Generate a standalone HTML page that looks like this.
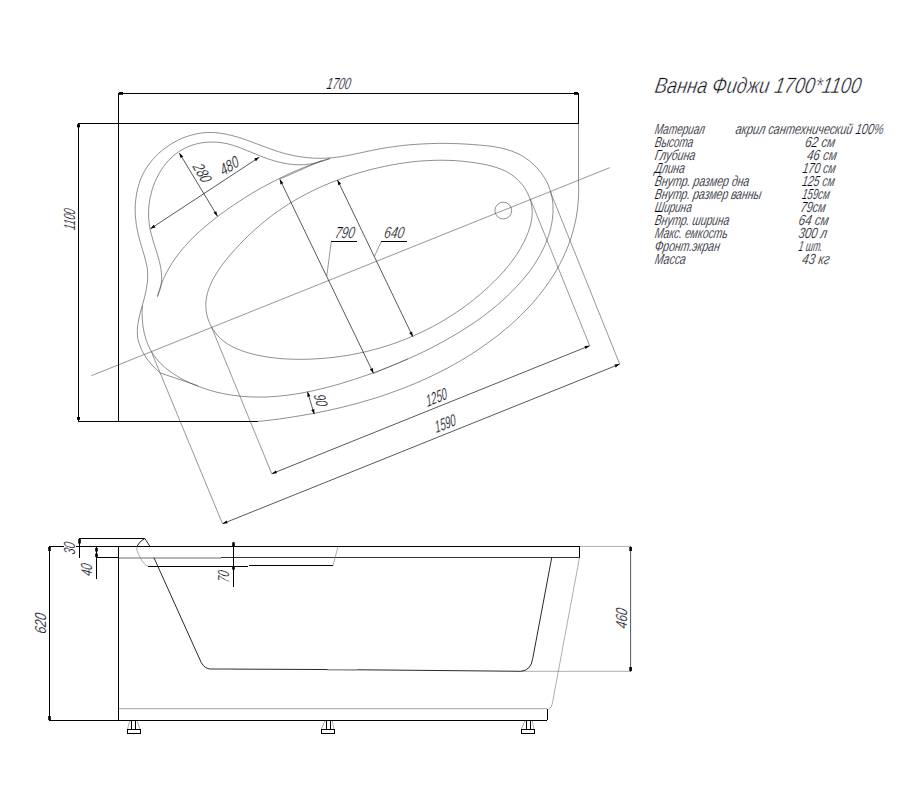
<!DOCTYPE html>
<html lang="ru"><head><meta charset="utf-8"><title>Ванна Фиджи 1700*1100</title>
<style>
html,body{margin:0;padding:0;background:#fff;}
body{width:900px;height:800px;overflow:hidden;position:relative;}
svg{position:absolute;left:0;top:0;display:block;}
path,circle{fill:none;}
.k{stroke:#000;stroke-width:1;shape-rendering:crispEdges;}
.k2{stroke:#111;stroke-width:0.9;}
.c{stroke:#444;stroke-width:0.6;}
.g{stroke:#9c9c9c;stroke-width:1.5;}
.g3{stroke:#b4b4b4;stroke-width:1.3;}
.d2{stroke:#111;stroke-width:0.85;}
.d3{stroke:#555;stroke-width:1;}
.g2{stroke:#777;stroke-width:0.6;}
.d{stroke:#161616;stroke-width:0.72;}
.e{stroke:#505050;stroke-width:0.6;}
.ar{fill:#000;stroke:none;}
text{font-family:"Liberation Sans","DejaVu Sans",sans-serif;font-style:italic;fill:#0b0d18;stroke:#fff;stroke-width:0.22px;}
.tt{stroke-width:0.45px;}
</style></head><body>
<svg width="900" height="800" viewBox="0 0 900 800">
<path class="k" d="M118 93.5H579M118.5 93V421.5M78 123.5H579M78.5 123V421.5M578.5 93V124M78 421.5H258"/>
<rect class="ar" x="119" y="92" width="4" height="2.8"/>
<rect class="ar" x="574" y="92" width="4" height="2.8"/>
<rect class="ar" x="77" y="124.3" width="3" height="3"/>
<rect class="ar" x="77" y="417" width="3" height="2.8"/>
<path class="c" d="M142.5 305.5C142.4 306.7 142.2 310.2 142.1 312.5C142.1 314.8 142.2 317.2 142.3 319.5C142.5 321.8 142.7 324.2 143.0 326.5C143.4 328.8 143.8 331.1 144.3 333.4C144.9 335.6 145.5 337.9 146.2 340.1C147.0 342.3 147.9 344.5 148.8 346.6C149.8 348.7 150.9 350.8 152.2 352.8C153.4 354.7 154.8 356.6 156.3 358.5C157.7 360.3 159.3 362.0 160.9 363.7C162.6 365.3 164.3 366.9 166.1 368.4C167.9 369.9 169.8 371.3 171.7 372.6C173.6 374.0 175.6 375.2 177.6 376.4C179.6 377.7 181.6 378.8 183.7 379.9C185.7 381.0 187.9 382.0 190.0 382.9C192.1 383.9 194.3 384.8 196.4 385.7C198.6 386.5 200.8 387.3 203.0 388.1C205.2 388.9 207.4 389.6 209.7 390.2C211.9 390.9 214.2 391.5 216.4 392.1C218.7 392.6 221.0 393.2 223.3 393.6C225.6 394.1 227.9 394.5 230.2 394.9C232.5 395.2 234.8 395.5 237.1 395.8C239.4 396.1 241.8 396.3 244.1 396.5C246.4 396.7 248.7 396.8 251.1 396.9C253.4 397.0 255.8 397.1 258.1 397.1C260.4 397.1 262.8 397.0 265.1 397.0C267.4 396.9 269.8 396.8 272.1 396.7C274.4 396.5 276.8 396.3 279.1 396.1C281.4 395.9 283.7 395.7 286.1 395.4C288.4 395.1 290.7 394.8 293.0 394.4C295.3 394.1 297.6 393.7 299.9 393.3C302.2 392.9 304.5 392.5 306.8 392.0C309.1 391.6 311.4 391.1 313.7 390.6C315.9 390.1 318.2 389.6 320.5 389.0C322.8 388.5 325.0 387.9 327.3 387.3C329.6 386.7 331.8 386.1 334.1 385.5C336.3 384.9 338.6 384.2 340.8 383.6C343.0 382.9 345.3 382.2 347.5 381.5C349.7 380.9 352.0 380.1 354.2 379.4C356.4 378.7 358.6 378.0 360.8 377.2C363.0 376.5 365.3 375.7 367.5 374.9C369.7 374.2 371.9 373.4 374.1 372.6C376.3 371.8 378.5 371.0 380.6 370.1C382.8 369.3 385.0 368.5 387.2 367.6C389.4 366.8 391.5 365.9 393.7 365.0C395.9 364.2 398.0 363.3 400.2 362.4C402.3 361.4 404.5 360.5 406.6 359.6C408.7 358.6 410.9 357.7 413.0 356.7C415.1 355.7 417.2 354.8 419.3 353.8C421.5 352.8 423.6 351.7 425.7 350.7C427.8 349.7 429.8 348.6 431.9 347.6C434.0 346.5 436.1 345.4 438.1 344.3C440.2 343.2 442.2 342.1 444.3 341.0C446.3 339.8 448.4 338.7 450.4 337.5C452.4 336.4 454.4 335.2 456.4 334.0C458.4 332.8 460.4 331.6 462.4 330.3C464.4 329.1 466.4 327.8 468.3 326.5C470.3 325.3 472.2 324.0 474.1 322.7C476.1 321.3 478.0 320.0 479.9 318.6C481.8 317.3 483.7 315.9 485.5 314.5C487.4 313.0 489.2 311.6 491.0 310.2C492.9 308.7 494.7 307.2 496.5 305.7C498.3 304.2 500.0 302.7 501.8 301.1C503.5 299.6 505.2 298.0 506.9 296.4C508.6 294.8 510.3 293.1 511.9 291.5C513.6 289.8 515.2 288.1 516.8 286.4C518.4 284.7 520.0 283.0 521.5 281.2C523.0 279.5 524.5 277.7 526.0 275.9C527.4 274.0 528.9 272.2 530.3 270.3C531.6 268.4 533.0 266.5 534.3 264.6C535.6 262.6 536.8 260.6 538.0 258.6C539.2 256.6 540.4 254.6 541.4 252.5C542.5 250.4 543.5 248.3 544.5 246.2C545.5 244.1 546.4 241.9 547.2 239.7C548.0 237.6 548.7 235.3 549.4 233.1C550.1 230.9 550.6 228.6 551.1 226.3C551.6 224.0 552.1 221.7 552.4 219.4C552.7 217.1 552.9 214.8 553.0 212.4C553.1 210.1 553.1 207.8 553.0 205.4C552.8 203.1 552.6 200.8 552.2 198.5C551.8 196.2 551.3 193.9 550.7 191.6C550.0 189.4 549.2 187.2 548.3 185.0C547.4 182.9 546.3 180.8 545.1 178.8C544.0 176.8 542.6 174.8 541.2 173.0C539.8 171.1 538.3 169.3 536.7 167.6C535.1 165.9 533.4 164.3 531.7 162.8C529.9 161.2 528.0 159.8 526.1 158.5C524.2 157.1 522.2 155.9 520.2 154.8C518.1 153.7 516.0 152.7 513.8 151.9C511.6 151.0 509.4 150.2 507.2 149.6C504.9 148.9 502.7 148.4 500.4 147.9C498.1 147.4 495.8 147.0 493.5 146.6C491.2 146.3 488.9 146.0 486.5 145.7C484.2 145.5 481.9 145.3 479.6 145.1C477.2 144.9 474.9 144.7 472.6 144.5C470.2 144.3 467.9 144.2 465.6 144.1C463.3 143.9 460.9 143.8 458.6 143.7C456.3 143.6 453.9 143.6 451.6 143.5C449.2 143.4 446.9 143.4 444.6 143.4C442.2 143.4 439.9 143.4 437.6 143.4C435.2 143.5 432.9 143.5 430.6 143.6C428.2 143.7 425.9 143.7 423.6 143.9C421.2 144.0 418.9 144.1 416.6 144.3C414.2 144.4 411.9 144.6 409.6 144.8C407.2 145.0 404.9 145.3 402.6 145.5C400.3 145.8 398.0 146.1 395.6 146.4C393.3 146.7 391.0 147.0 388.7 147.4C386.4 147.7 384.1 148.1 381.8 148.5C379.5 148.9 377.2 149.3 374.9 149.8C372.6 150.2 370.3 150.7 368.0 151.2C365.8 151.7 363.5 152.2 361.2 152.7C358.9 153.2 356.6 153.7 354.3 154.2C352.1 154.6 349.8 155.1 347.5 155.5C345.2 156.0 342.9 156.4 340.6 156.7C338.2 157.0 335.9 157.3 333.6 157.6C331.3 157.8 328.9 158.0 326.6 158.1C324.3 158.2 321.9 158.3 319.6 158.3C317.3 158.2 314.9 158.2 312.6 158.1C310.3 157.9 307.9 157.7 305.6 157.5C303.3 157.2 301.0 156.9 298.7 156.5C296.4 156.2 294.1 155.7 291.8 155.2C289.5 154.7 287.2 154.2 285.0 153.6C282.7 153.0 280.5 152.3 278.3 151.6C276.0 150.9 273.8 150.1 271.6 149.3C269.4 148.6 267.2 147.8 265.0 146.9C262.8 146.1 260.7 145.3 258.5 144.5C256.3 143.7 254.1 142.8 251.9 142.0C249.7 141.2 247.5 140.4 245.3 139.6C243.1 138.9 240.9 138.1 238.7 137.4C236.4 136.8 234.2 136.1 231.9 135.5C229.7 134.9 227.4 134.4 225.1 134.0C222.8 133.5 220.5 133.2 218.2 132.9C215.9 132.7 213.5 132.5 211.2 132.5C208.8 132.4 206.5 132.5 204.2 132.7C201.9 132.9 199.5 133.3 197.2 133.7C195.0 134.2 192.7 134.7 190.4 135.4C188.2 136.0 186.0 136.8 183.8 137.6C181.6 138.5 179.5 139.4 177.4 140.5C175.3 141.5 173.3 142.6 171.3 143.9C169.3 145.1 167.3 146.4 165.5 147.8C163.6 149.2 161.8 150.6 160.0 152.2C158.3 153.7 156.6 155.4 155.0 157.1C153.4 158.7 151.8 160.5 150.4 162.4C149.0 164.2 147.6 166.1 146.4 168.1C145.1 170.1 144.0 172.1 142.9 174.2C141.9 176.3 141.0 178.4 140.1 180.6C139.3 182.8 138.6 185.0 138.0 187.3C137.4 189.5 136.9 191.8 136.5 194.1C136.1 196.4 135.8 198.8 135.6 201.1C135.4 203.4 135.2 205.7 135.2 208.1C135.2 210.4 135.2 212.7 135.3 215.1C135.5 217.4 135.7 219.7 136.0 222.1C136.3 224.4 136.6 226.7 137.1 229.0C137.5 231.3 138.0 233.6 138.6 235.8C139.1 238.1 139.8 240.3 140.4 242.6C141.0 244.8 141.7 247.1 142.4 249.3C143.0 251.6 143.7 253.8 144.4 256.0C145.0 258.3 145.7 260.5 146.2 262.8C146.7 265.1 147.2 267.4 147.5 269.7C147.7 272.0 147.8 274.3 147.7 276.7C147.7 279.0 147.5 281.3 147.2 283.7C146.9 286.0 146.5 288.3 146.1 290.6C145.6 292.9 145.1 295.1 144.5 297.4C143.9 299.7 143.3 301.9 142.7 304.2C142.1 306.4 141.4 308.7 140.8 310.9C140.2 313.2 139.5 315.4 139.0 317.7C138.5 320.0 138.1 322.3 137.8 324.6C137.5 326.9 137.3 329.3 137.3 331.6C137.3 333.9 137.5 336.3 137.9 338.6C138.3 340.8 139.0 343.1 139.8 345.3C140.5 347.5 141.5 349.6 142.6 351.7C143.7 353.8 144.9 355.8 146.2 357.7C147.5 359.7 148.9 361.5 150.4 363.3C151.9 365.1 153.5 366.8 155.2 368.4C156.9 370.0 159.6 372.2 160.5 373.0"/>
<path class="c" d="M160.5 373L198 385.75"/>
<path class="c" d="M157.5 296.5C157.9 295.4 159.3 292.1 160.0 289.8C160.6 287.5 161.1 285.2 161.3 282.8C161.6 280.5 161.7 278.0 161.6 275.7C161.5 273.3 161.2 270.9 160.9 268.6C160.5 266.2 160.0 263.9 159.4 261.6C158.9 259.3 158.2 257.0 157.5 254.7C156.8 252.4 156.1 250.2 155.4 247.9C154.7 245.6 153.9 243.4 153.2 241.1C152.5 238.8 151.9 236.5 151.3 234.2C150.7 231.9 150.1 229.6 149.7 227.2C149.3 224.9 149.0 222.5 148.8 220.2C148.6 217.8 148.5 215.4 148.5 213.0C148.6 210.7 148.7 208.3 148.9 205.9C149.2 203.5 149.5 201.2 149.9 198.8C150.4 196.5 150.9 194.2 151.5 191.9C152.1 189.6 152.9 187.3 153.7 185.1C154.5 182.8 155.4 180.6 156.5 178.5C157.5 176.4 158.6 174.2 159.8 172.2C161.0 170.2 162.4 168.2 163.8 166.3C165.2 164.3 166.7 162.5 168.3 160.7C169.9 159.0 171.7 157.3 173.5 155.8C175.3 154.2 177.2 152.8 179.1 151.5C181.1 150.2 183.2 149.0 185.3 147.9C187.5 146.9 189.7 146.0 191.9 145.2C194.2 144.5 196.5 143.8 198.8 143.4C201.2 142.9 203.5 142.5 205.9 142.3C208.3 142.1 210.6 142.0 213.0 142.0C215.4 142.0 217.8 142.2 220.1 142.5C222.5 142.8 224.8 143.2 227.2 143.7C229.5 144.3 231.8 144.9 234.0 145.6C236.3 146.4 238.6 147.2 240.8 148.0C243.0 148.9 245.2 149.8 247.4 150.7C249.6 151.6 251.8 152.5 254.0 153.4C256.2 154.3 258.4 155.3 260.6 156.1C262.8 157.0 265.1 157.8 267.3 158.6C269.6 159.4 271.8 160.1 274.1 160.8C276.4 161.4 278.7 162.1 281.0 162.6C283.3 163.1 285.7 163.5 288.0 163.9C290.4 164.2 292.8 164.5 295.1 164.7C297.5 164.8 299.9 164.8 302.3 164.8C304.6 164.7 307.0 164.5 309.4 164.1C311.7 163.8 314.1 163.3 316.4 162.8C318.7 162.3 321.0 161.6 323.3 160.9C325.5 160.2 328.9 158.9 330.0 158.5"/>
<path class="c" d="M157.5 296.5C157.8 295.4 158.7 291.9 159.4 289.6C160.2 287.3 161.0 285.1 161.9 282.9C162.7 280.6 163.7 278.4 164.7 276.3C165.7 274.1 166.8 272.0 168.0 269.9C169.1 267.8 170.4 265.8 171.6 263.8C172.9 261.7 174.3 259.8 175.6 257.8C177.0 255.9 178.5 254.0 180.0 252.1C181.4 250.2 183.0 248.4 184.6 246.6C186.1 244.8 187.7 243.1 189.4 241.3C191.0 239.6 192.7 237.9 194.4 236.2C196.2 234.6 197.9 233.0 199.7 231.4C201.4 229.7 203.2 228.2 205.1 226.6C206.9 225.1 208.7 223.6 210.6 222.1C212.4 220.6 214.3 219.1 216.2 217.6C218.1 216.2 220.0 214.7 221.9 213.3C223.8 211.9 225.8 210.5 227.7 209.1C229.7 207.7 231.6 206.4 233.6 205.0C235.6 203.7 237.6 202.4 239.6 201.1C241.6 199.7 243.6 198.5 245.6 197.2C247.6 195.9 249.7 194.7 251.7 193.5C253.8 192.2 255.8 191.0 257.9 189.8C260.0 188.7 262.1 187.5 264.2 186.3C266.3 185.2 268.4 184.1 270.5 183.0C272.6 181.9 274.7 180.8 276.9 179.7C279.0 178.6 281.1 177.6 283.3 176.6C285.4 175.5 287.6 174.5 289.8 173.5C292.0 172.6 294.1 171.6 296.3 170.6C298.5 169.7 300.7 168.8 302.9 167.9C305.1 166.9 307.4 166.1 309.6 165.2C311.8 164.4 314.1 163.5 316.3 162.7C318.6 162.0 320.8 161.2 323.1 160.5C325.4 159.8 328.9 158.8 330.0 158.5"/>
<path class="c" d="M235.1 249.4C233.5 251.1 232.0 252.8 230.4 254.6C228.9 256.4 227.4 258.2 226.0 260.0C224.5 261.9 223.1 263.7 221.7 265.6C220.3 267.5 218.9 269.4 217.7 271.4C216.4 273.3 215.2 275.4 214.0 277.4C212.9 279.4 211.8 281.5 210.9 283.7C209.9 285.8 209.1 288.0 208.3 290.2C207.6 292.5 207.0 294.7 206.6 297.0C206.2 299.3 205.9 301.7 205.8 304.0C205.8 306.3 205.9 308.7 206.2 311.0C206.5 313.3 207.0 315.6 207.7 317.9C208.3 320.1 209.2 322.3 210.2 324.4C211.2 326.5 212.4 328.6 213.7 330.5C215.0 332.5 216.4 334.3 218.0 336.0C219.6 337.8 221.4 339.3 223.2 340.8C225.0 342.3 227.0 343.6 229.0 344.8C231.0 346.0 233.1 347.1 235.2 348.1C237.3 349.0 239.5 349.9 241.7 350.7C243.9 351.5 246.1 352.2 248.4 352.9C250.6 353.6 252.9 354.1 255.2 354.7C257.5 355.2 259.8 355.7 262.1 356.1C264.4 356.6 266.7 356.9 269.0 357.3C271.3 357.6 273.6 357.9 276.0 358.1C278.3 358.4 280.6 358.6 283.0 358.8C285.3 358.9 287.6 359.0 290.0 359.1C292.3 359.2 294.7 359.3 297.0 359.3C299.3 359.3 301.7 359.3 304.0 359.3C306.4 359.2 308.7 359.2 311.1 359.1C313.4 359.0 315.7 358.9 318.1 358.7C320.4 358.6 322.8 358.4 325.1 358.2C327.4 358.0 329.8 357.8 332.1 357.5C334.4 357.2 336.7 356.9 339.1 356.6C341.4 356.3 343.7 356.0 346.0 355.6C348.3 355.2 350.6 354.8 352.9 354.4C355.2 353.9 357.5 353.5 359.8 353.0C362.1 352.5 364.4 352.0 366.7 351.5C369.0 350.9 371.2 350.3 373.5 349.7C375.8 349.1 378.0 348.5 380.3 347.9C382.5 347.2 384.8 346.5 387.0 345.8C389.2 345.1 391.4 344.3 393.7 343.6C395.9 342.8 398.1 342.0 400.3 341.2C402.5 340.4 404.6 339.5 406.8 338.6C409.0 337.8 411.1 336.8 413.3 335.9C415.4 335.0 417.6 334.0 419.7 333.0C421.8 332.0 423.9 331.0 426.0 330.0C428.1 328.9 430.2 327.9 432.3 326.8C434.4 325.7 436.4 324.6 438.5 323.4C440.5 322.3 442.5 321.1 444.5 319.9C446.5 318.7 448.5 317.4 450.5 316.2C452.5 314.9 454.5 313.6 456.4 312.3C458.3 311.0 460.3 309.7 462.2 308.3C464.1 307.0 466.0 305.6 467.9 304.2C469.7 302.8 471.6 301.3 473.4 299.9C475.2 298.4 477.1 296.9 478.9 295.4C480.6 293.9 482.4 292.4 484.2 290.8C485.9 289.3 487.7 287.7 489.4 286.1C491.1 284.5 492.8 282.9 494.4 281.2C496.1 279.6 497.7 277.9 499.3 276.2C500.9 274.5 502.5 272.8 504.1 271.0C505.6 269.2 507.1 267.4 508.6 265.6C510.0 263.8 511.5 261.9 512.8 260.0C514.2 258.1 515.6 256.2 516.9 254.3C518.1 252.3 519.4 250.3 520.5 248.3C521.7 246.3 522.8 244.2 523.9 242.1C524.9 240.0 525.9 237.9 526.8 235.7C527.7 233.6 528.6 231.4 529.3 229.1C530.0 226.9 530.7 224.7 531.1 222.4C531.6 220.1 532.0 217.7 532.1 215.4C532.3 213.1 532.3 210.7 532.0 208.4C531.8 206.1 531.4 203.7 530.8 201.5C530.2 199.2 529.3 197.0 528.4 194.9C527.4 192.7 526.3 190.7 525.1 188.7C523.8 186.7 522.4 184.8 520.9 183.1C519.3 181.3 517.7 179.6 515.9 178.1C514.2 176.5 512.3 175.1 510.3 173.8C508.4 172.6 506.3 171.5 504.2 170.5C502.0 169.5 499.8 168.6 497.6 167.9C495.4 167.1 493.2 166.5 490.9 165.9C488.6 165.3 486.3 164.8 484.0 164.3C481.7 163.9 479.4 163.5 477.1 163.1C474.8 162.7 472.5 162.4 470.2 162.1C467.8 161.8 465.5 161.5 463.2 161.3C460.8 161.1 458.5 160.9 456.2 160.7C453.8 160.6 451.5 160.5 449.2 160.4C446.8 160.3 444.5 160.3 442.1 160.2C439.8 160.2 437.4 160.2 435.1 160.3C432.8 160.3 430.4 160.4 428.1 160.6C425.7 160.7 423.4 160.8 421.1 161.0C418.7 161.2 416.4 161.4 414.1 161.6C411.7 161.9 409.4 162.2 407.1 162.5C404.8 162.8 402.4 163.1 400.1 163.5C397.8 163.8 395.5 164.2 393.2 164.7C390.9 165.1 388.6 165.5 386.3 166.0C384.0 166.5 381.7 167.0 379.4 167.5C377.1 168.0 374.9 168.5 372.6 169.1C370.3 169.7 368.1 170.3 365.8 170.9C363.5 171.5 361.3 172.2 359.0 172.8C356.8 173.5 354.5 174.2 352.3 174.9C350.1 175.6 347.9 176.4 345.7 177.1C343.4 177.9 341.2 178.7 339.0 179.5C336.8 180.3 334.6 181.1 332.5 182.0C330.3 182.9 328.1 183.8 326.0 184.7C323.8 185.6 321.7 186.5 319.5 187.5C317.4 188.5 315.3 189.5 313.2 190.5C311.1 191.5 309.0 192.6 306.9 193.7C304.8 194.7 302.7 195.8 300.7 197.0C298.6 198.1 296.6 199.3 294.6 200.4C292.6 201.6 290.6 202.9 288.6 204.1C286.6 205.3 284.6 206.6 282.7 207.9C280.7 209.2 278.8 210.6 276.9 211.9C275.0 213.3 273.1 214.7 271.2 216.1C269.4 217.5 267.5 218.9 265.7 220.4C263.9 221.9 262.1 223.4 260.3 224.9C258.5 226.4 256.7 227.9 255.0 229.5C253.3 231.1 251.5 232.7 249.8 234.3C248.1 235.9 246.5 237.5 244.8 239.2C243.1 240.8 241.5 242.5 239.9 244.2C238.3 245.9 236.7 247.6 235.1 249.4Z"/>
<path class="c" d="M578.5 124L578.5 183"/>
<path class="c" d="M578.5 183.0C578.5 184.2 578.7 187.7 578.7 190.1C578.7 192.4 578.6 194.8 578.5 197.1C578.4 199.5 578.2 201.8 578.0 204.1C577.8 206.5 577.5 208.8 577.2 211.2C576.9 213.5 576.5 215.8 576.1 218.1C575.6 220.4 575.2 222.7 574.6 225.0C574.1 227.3 573.5 229.6 572.8 231.9C572.2 234.1 571.5 236.4 570.8 238.6C570.0 240.8 569.2 243.1 568.4 245.2C567.6 247.4 566.7 249.6 565.7 251.8C564.8 253.9 563.8 256.1 562.8 258.2C561.8 260.3 560.7 262.4 559.6 264.5C558.5 266.6 557.4 268.6 556.2 270.7C555.0 272.7 553.8 274.7 552.5 276.7C551.2 278.7 549.9 280.6 548.6 282.6C547.3 284.5 545.9 286.4 544.5 288.3C543.1 290.2 541.7 292.1 540.2 293.9C538.7 295.8 537.2 297.6 535.7 299.4C534.2 301.2 532.6 302.9 531.1 304.7C529.5 306.4 527.9 308.1 526.3 309.8C524.6 311.5 523.0 313.2 521.3 314.9C519.6 316.5 517.9 318.1 516.2 319.7C514.5 321.3 512.7 322.9 511.0 324.5C509.2 326.0 507.4 327.6 505.6 329.1C503.8 330.6 502.0 332.1 500.2 333.6C498.3 335.0 496.5 336.5 494.6 337.9C492.7 339.3 490.9 340.7 488.9 342.1C487.0 343.5 485.1 344.9 483.2 346.2C481.3 347.6 479.3 348.9 477.4 350.2C475.4 351.5 473.4 352.8 471.5 354.0C469.5 355.3 467.5 356.6 465.5 357.8C463.5 359.0 461.4 360.2 459.4 361.4C457.4 362.6 455.3 363.7 453.3 364.9C451.2 366.0 449.1 367.1 447.1 368.3C445.0 369.4 442.9 370.4 440.8 371.5C438.7 372.6 436.6 373.6 434.5 374.6C432.4 375.7 430.2 376.7 428.1 377.7C426.0 378.7 423.8 379.6 421.7 380.6C419.5 381.5 417.4 382.5 415.2 383.4C413.0 384.3 410.9 385.2 408.7 386.1C406.5 387.0 404.3 387.8 402.1 388.7C399.9 389.5 397.7 390.3 395.5 391.1C393.3 392.0 391.1 392.7 388.9 393.5C386.6 394.3 384.4 395.1 382.2 395.8C379.9 396.5 377.7 397.3 375.5 398.0C373.2 398.7 371.0 399.4 368.7 400.0C366.5 400.7 364.2 401.4 361.9 402.0C359.7 402.7 357.4 403.3 355.1 403.9C352.9 404.5 350.6 405.1 348.3 405.7C346.0 406.3 343.7 406.9 341.5 407.4C339.2 408.0 336.9 408.5 334.6 409.0C332.3 409.5 330.0 410.0 327.7 410.5C325.4 411.0 323.1 411.5 320.8 412.0C318.5 412.5 316.2 412.9 313.9 413.3C311.6 413.8 309.2 414.2 306.9 414.6C304.6 415.0 302.3 415.4 300.0 415.8C297.6 416.2 295.3 416.6 293.0 416.9C290.7 417.3 288.3 417.7 286.0 418.0C283.7 418.3 281.4 418.7 279.0 419.0C276.7 419.3 274.4 419.6 272.0 419.9C269.7 420.2 267.4 420.4 265.0 420.7C262.7 421.0 259.2 421.3 258.0 421.4"/>
<path class="e" d="M91.25 375.75L609.75 167.7"/>
<circle class="c" cx="503.3" cy="210.6" r="8.4"/>
<path class="d" d="M279.75 179.25L373.5 373.3"/>
<polygon class="ar" points="279.75,179.25 283.37,183.06 280.48,184.45"/>
<polygon class="ar" points="373.5,373.3 369.88,369.49 372.77,368.1"/>
<path class="d" d="M337.5 180L412.8 336.7"/>
<polygon class="ar" points="337.5,180 341.11,183.81 338.22,185.2"/>
<polygon class="ar" points="412.8,336.7 409.19,332.89 412.08,331.5"/>
<path class="d" d="M150.4 228.8L259.25 157.2"/>
<polygon class="ar" points="150.4,228.8 153.7,224.72 155.46,227.39"/>
<polygon class="ar" points="259.25,157.2 255.95,161.28 254.19,158.61"/>
<path class="d" d="M179.3 153L217.5 216.25"/>
<polygon class="ar" points="179.3,153 183.25,156.45 180.52,158.11"/>
<polygon class="ar" points="217.5,216.25 213.55,212.8 216.28,211.14"/>
<path class="d" d="M271.75 473.75L589.7 345.7"/>
<polygon class="ar" points="271.75,473.75 275.79,470.4 276.99,473.37"/>
<polygon class="ar" points="589.7,345.7 585.66,349.05 584.46,346.08"/>
<path class="d" d="M222.5 523.75L619.7 364.1"/>
<polygon class="ar" points="222.5,523.75 226.54,520.4 227.74,523.37"/>
<polygon class="ar" points="619.7,364.1 615.66,367.45 614.46,364.48"/>
<path class="d" d="M307.5 391.75L314.25 414.25"/>
<polygon class="ar" points="307.5,391.75 310.47,396.08 307.4,397"/>
<polygon class="ar" points="314.25,414.25 311.28,409.92 314.35,409"/>
<path class="e" d="M211.7 327.5L271.75 473.75"/>
<path class="e" d="M151.5 352L222.5 523.75"/>
<path class="e" d="M530.5 199.5L589.7 345.7"/>
<path class="e" d="M550.5 192L619.7 364.1"/>
<path class="e" d="M373.5 373.5L408 358.75"/>
<path class="e" d="M280 179L322 160.5"/>
<path class="k" d="M331 241.5H357M381 241.5H407"/>
<path class="e" d="M331.25 241.5L326.8 276"/>
<path class="e" d="M381.25 241.5L374.5 256.25"/>
<text class="t" font-size="16" textLength="24" lengthAdjust="spacingAndGlyphs" transform="translate(326 88.8) skewX(-10)">1700</text>
<text class="t" font-size="16" textLength="21" lengthAdjust="spacingAndGlyphs" transform="translate(75 230.5) rotate(-90) skewX(-10)">1100</text>
<text class="t" font-size="16" textLength="19.5" lengthAdjust="spacingAndGlyphs" transform="translate(334.5 238) skewX(-10)">790</text>
<text class="t" font-size="16" textLength="20" lengthAdjust="spacingAndGlyphs" transform="translate(383.5 238) skewX(-10)">640</text>
<text class="t" font-size="16" textLength="20" lengthAdjust="spacingAndGlyphs" transform="translate(223.3 176.3) rotate(-33.4) skewX(-10)">480</text>
<text class="t" font-size="16" textLength="20" lengthAdjust="spacingAndGlyphs" transform="translate(191.9 166.5) rotate(58.5) skewX(-10)">280</text>
<text class="t" font-size="16.6" textLength="22" lengthAdjust="spacingAndGlyphs" transform="translate(427.5 406.9) rotate(-21.8) skewX(-10)">1250</text>
<text class="t" font-size="16.6" textLength="22" lengthAdjust="spacingAndGlyphs" transform="translate(436.3 433.1) rotate(-21.8) skewX(-10)">1590</text>
<text class="t" font-size="16" textLength="12" lengthAdjust="spacingAndGlyphs" transform="translate(313.6 395.3) rotate(73.3) skewX(-10)">90</text>
<path class="k" d="M49 546.5H63.8M75.6 546.5H580M49.5 546V721M49 720.5H546.5M118.5 546V721M79 538.5H145M79.5 538V558M96.5 546V579M96 557.5H119M579.5 546V558M233.5 542V587M547.5 709V720M148 566.5H248M249 565.5H333"/>
<path class="g" d="M119 557.9H221"/>
<path class="g3" d="M119 708.6H547"/>
<path class="d2" d="M221 557.5L580 557.5"/>
<path class="g2" d="M333 565.6L338 546.5"/>
<path class="g2" d="M580 546.4L630.75 546.4"/>
<path class="g2" d="M520.7 671.3L630.75 671.3"/>
<path class="d3" d="M630.6 546L630.6 672"/>
<rect class="ar" x="629.3" y="547" width="2.6" height="4"/>
<rect class="ar" x="629.3" y="667" width="2.6" height="4"/>
<rect class="ar" x="48.2" y="547" width="2.6" height="4"/>
<rect class="ar" x="48.2" y="716" width="2.6" height="4"/>
<rect class="ar" x="78.2" y="539" width="2.6" height="4.5"/>
<rect class="ar" x="95.2" y="548" width="2.6" height="3.5"/>
<rect class="ar" x="95.2" y="553.5" width="2.6" height="3.5"/>
<rect class="ar" x="232.2" y="542.4" width="2.6" height="3.6"/>
<rect class="ar" x="232.2" y="566" width="2.6" height="3.6"/>
<path class="k2" d="M144.8 538.4L149.8 546.2M154 557.8L201.3 662.7Q205 668.9 210.5 669L340 669.6L520.7 671.3Q531 670.5 532.7 658.7L551.75 557.5"/>
<path class="g" d="M209.5 669H232.5M327.5 669.7H357.5"/>
<path class="k2" d="M144.8 538.4Q139.5 541.3 137 546.2"/>
<path class="g2" d="M137 546.2Q135.6 549.5 138.8 554.8Q143 564.5 148.1 566.2"/>
<path class="g2" d="M579.5 557.5L553.9 695L552.7 701.7Q551.7 708 548.3 709"/>
<path class="k" d="M131.5 721V730M135.5 721V730M127.5 729.5H140.5V733.5H127.5Z"/>
<path class="g2" d="M129.8 721L127.5 729M137.2 721L140 729"/>
<path class="k" d="M326.5 721V730M330.5 721V730M321.5 729.5H334.5V733.5H321.5Z"/>
<path class="g2" d="M324.8 721L321.5 729M332.2 721L334 729"/>
<path class="k" d="M526.5 721V730M530.5 721V730M521.5 729.5H534.5V733.5H521.5Z"/>
<path class="g2" d="M524.8 721L521.5 729M532.2 721L534 729"/>
<text class="t" font-size="16" textLength="12" lengthAdjust="spacingAndGlyphs" transform="translate(75.2 555) rotate(-90) skewX(-10)">30</text>
<text class="t" font-size="16" textLength="12" lengthAdjust="spacingAndGlyphs" transform="translate(92.3 576.5) rotate(-90) skewX(-10)">40</text>
<text class="t" font-size="16" textLength="20.5" lengthAdjust="spacingAndGlyphs" transform="translate(45.9 634.3) rotate(-90) skewX(-10)">620</text>
<text class="t" font-size="16" textLength="11.5" lengthAdjust="spacingAndGlyphs" transform="translate(229.2 583) rotate(-90) skewX(-10)">70</text>
<text class="t" font-size="16" textLength="20" lengthAdjust="spacingAndGlyphs" transform="translate(627.3 629) rotate(-90) skewX(-10)">460</text>
<text class="tt" font-size="22.3" textLength="206" lengthAdjust="spacingAndGlyphs" transform="translate(654 93) skewX(-10)">Ванна Фиджи 1700*1100</text>
<text class="t" font-size="14.7" textLength="50" lengthAdjust="spacingAndGlyphs" transform="translate(654.2 134.4) skewX(-10)">Материал</text>
<text class="t" font-size="14.7" textLength="148" lengthAdjust="spacingAndGlyphs" transform="translate(735 134.4) skewX(-10)">акрил сантехнический 100%</text>
<text class="t" font-size="14.7" textLength="38.5" lengthAdjust="spacingAndGlyphs" transform="translate(654.2 147.38) skewX(-10)">Высота</text>
<text class="t" font-size="14.7" textLength="30" lengthAdjust="spacingAndGlyphs" transform="translate(804.5 147.38) skewX(-10)">62 см</text>
<text class="t" font-size="14.7" textLength="40.5" lengthAdjust="spacingAndGlyphs" transform="translate(654.2 160.36) skewX(-10)">Глубина</text>
<text class="t" font-size="14.7" textLength="29.5" lengthAdjust="spacingAndGlyphs" transform="translate(806.5 160.36) skewX(-10)">46 см</text>
<text class="t" font-size="14.7" textLength="30" lengthAdjust="spacingAndGlyphs" transform="translate(654.2 173.34) skewX(-10)">Длина</text>
<text class="t" font-size="14.7" textLength="33" lengthAdjust="spacingAndGlyphs" transform="translate(802 173.34) skewX(-10)">170 см</text>
<text class="t" font-size="14.7" textLength="94.5" lengthAdjust="spacingAndGlyphs" transform="translate(654.2 186.32) skewX(-10)">Внутр. размер дна</text>
<text class="t" font-size="14.7" textLength="32.5" lengthAdjust="spacingAndGlyphs" transform="translate(801.5 186.32) skewX(-10)">125 см</text>
<text class="t" font-size="14.7" textLength="106.5" lengthAdjust="spacingAndGlyphs" transform="translate(654.2 199.3) skewX(-10)">Внутр. размер ванны</text>
<text class="t" font-size="14.7" textLength="27.5" lengthAdjust="spacingAndGlyphs" transform="translate(801.5 199.3) skewX(-10)">159см</text>
<text class="t" font-size="14.7" textLength="37" lengthAdjust="spacingAndGlyphs" transform="translate(654.2 212.28) skewX(-10)">Ширина</text>
<text class="t" font-size="14.7" textLength="25" lengthAdjust="spacingAndGlyphs" transform="translate(800 212.28) skewX(-10)">79см</text>
<text class="t" font-size="14.7" textLength="74.5" lengthAdjust="spacingAndGlyphs" transform="translate(654.2 225.26) skewX(-10)">Внутр. ширина</text>
<text class="t" font-size="14.7" textLength="30" lengthAdjust="spacingAndGlyphs" transform="translate(798 225.26) skewX(-10)">64 см</text>
<text class="t" font-size="14.7" textLength="73" lengthAdjust="spacingAndGlyphs" transform="translate(654.2 238.24) skewX(-10)">Макс. емкость</text>
<text class="t" font-size="14.7" textLength="28.5" lengthAdjust="spacingAndGlyphs" transform="translate(798 238.24) skewX(-10)">300 л</text>
<text class="t" font-size="14.7" textLength="65" lengthAdjust="spacingAndGlyphs" transform="translate(654.2 251.22) skewX(-10)">Фронт.экран</text>
<text class="t" font-size="14.7" textLength="24" lengthAdjust="spacingAndGlyphs" transform="translate(798 251.22) skewX(-10)">1 шт.</text>
<text class="t" font-size="14.7" textLength="31" lengthAdjust="spacingAndGlyphs" transform="translate(654.2 264.2) skewX(-10)">Масса</text>
<text class="t" font-size="14.7" textLength="27.5" lengthAdjust="spacingAndGlyphs" transform="translate(801.5 264.2) skewX(-10)">43 кг</text>
</svg>
</body></html>
